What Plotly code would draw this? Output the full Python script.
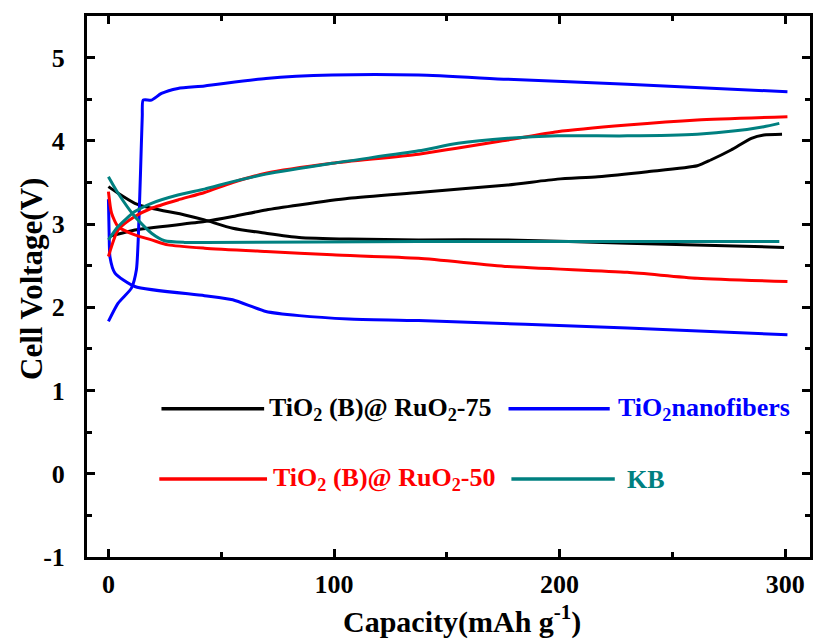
import plotly.graph_objects as go

# ---- data (capacity mAh/g, voltage V) ----
blk_dis_x = [0, 4.3, 11.7, 19.1, 33.8, 42.6, 55.1, 69.8, 84.5, 106.6, 137.5, 177, 230, 299.5]
blk_dis_y = [3.45, 3.37, 3.25, 3.19, 3.11, 3.05, 2.95, 2.89, 2.84, 2.82, 2.81, 2.81, 2.77, 2.72]
blk_chg_x = [0, 1.4, 11.7, 42.6, 55.1, 69.8, 84.5, 106.6, 137.5, 177, 199, 217, 239, 261, 267, 276, 285, 290.5, 298.6]
blk_chg_y = [2.85, 2.86, 2.93, 3.03, 3.09, 3.17, 3.23, 3.31, 3.38, 3.47, 3.54, 3.57, 3.63, 3.70, 3.77, 3.89, 4.03, 4.07, 4.08]

blu_dis_x = [0, 0.3, 0.7, 2.9, 11.7, 42.6, 55.1, 69.8, 84.5, 106.6, 137.5, 230, 301]
blu_dis_y = [3.3, 2.9, 2.6, 2.41, 2.25, 2.14, 2.09, 1.95, 1.90, 1.86, 1.84, 1.75, 1.67]
blu_chg_x = [0, 4.3, 10.2, 12.4, 13.2, 14.2, 15.0, 15.4, 19.1, 23.5, 30.8, 42.6, 69.8, 99.2, 137.5, 177, 230, 301]
blu_chg_y = [1.83, 2.05, 2.23, 2.45, 2.81, 3.6, 4.3, 4.49, 4.49, 4.57, 4.63, 4.66, 4.75, 4.79, 4.79, 4.74, 4.68, 4.59]

red_dis_x = [0, 1.4, 4.3, 11.7, 19.1, 26.4, 42.6, 69.8, 99.2, 137.5, 177, 230, 261, 301]
red_dis_y = [3.39, 3.13, 2.97, 2.87, 2.81, 2.75, 2.71, 2.67, 2.63, 2.59, 2.49, 2.42, 2.35, 2.31]
red_chg_x = [0, 4.3, 11.7, 19.1, 30.8, 42.6, 55.1, 69.8, 99.2, 137.5, 177, 199, 230, 261, 301]
red_chg_y = [2.61, 2.93, 3.09, 3.19, 3.29, 3.38, 3.50, 3.61, 3.73, 3.84, 4.01, 4.11, 4.19, 4.25, 4.29]

kb_dis_x = [0, 4.3, 11.7, 19.1, 24.9, 33.8, 42.6, 137.5, 230, 297.4]
kb_dis_y = [3.57, 3.37, 3.09, 2.89, 2.80, 2.78, 2.78, 2.79, 2.79, 2.79]
kb_chg_x = [0, 4.3, 11.7, 19.1, 30.8, 42.6, 55.1, 69.8, 99.2, 137.5, 155, 177, 199, 230, 261, 278, 290.5, 297.4]
kb_chg_y = [2.81, 2.97, 3.15, 3.25, 3.35, 3.42, 3.51, 3.60, 3.73, 3.88, 3.97, 4.03, 4.06, 4.06, 4.08, 4.12, 4.17, 4.21]

x_ticks = [0, 100, 200, 300]
y_ticks = [-1, 0, 1, 2, 3, 4, 5]
y_tick_text = ["-1", "0", "1", "2", "3", "4", "5"]

series = [
    ("TiO<sub>2</sub> (B)@ RuO<sub>2</sub>-75", "#000000", [(blk_dis_x, blk_dis_y), (blk_chg_x, blk_chg_y)]),
    ("TiO<sub>2</sub>nanofibers", "#0000FF", [(blu_dis_x, blu_dis_y), (blu_chg_x, blu_chg_y)]),
    ("TiO<sub>2</sub> (B)@ RuO<sub>2</sub>-50", "#FF0000", [(red_dis_x, red_dis_y), (red_chg_x, red_chg_y)]),
    ("KB", "#008080", [(kb_dis_x, kb_dis_y), (kb_chg_x, kb_chg_y)]),
]

FONT = "Liberation Serif"

fig = go.Figure()
for name, color, parts in series:
    for xs, ys in parts:
        fig.add_trace(go.Scatter(x=xs, y=ys, mode="lines", name=name, showlegend=False,
                                 line=dict(color=color, width=3, shape="spline", smoothing=0.6)))

# custom legend (line samples + labels)
legend_pos = [
    (0.103, 0.245, 0.274, 0.249),
    (0.583, 0.723, 0.274, 0.731),
    (0.100, 0.249, 0.144, 0.254),
    (0.587, 0.730, 0.144, 0.744),
]
for (name, color, _), (x0, x1, yy, tx) in zip(series, legend_pos):
    fig.add_shape(type="line", xref="paper", yref="paper", x0=x0, x1=x1, y0=yy, y1=yy,
                  line=dict(color=color, width=3.5))
    fig.add_annotation(xref="paper", yref="paper", x=tx, y=yy, text="<b>%s</b>" % name,
                       showarrow=False, xanchor="left", yanchor="middle",
                       font=dict(family=FONT, size=26, color=color))

# axis titles
fig.add_annotation(xref="paper", yref="paper", x=-0.076, y=0.514, textangle=-90,
                   text="<b>Cell Voltage(V)</b>", showarrow=False,
                   xanchor="center", yanchor="middle",
                   font=dict(family=FONT, size=31, color="black"))
fig.add_annotation(xref="paper", yref="paper", x=0.519, y=-0.115,
                   text="<b>Capacity(mAh g<sup>-1</sup>)</b>", showarrow=False,
                   xanchor="center", yanchor="middle",
                   font=dict(family=FONT, size=30, color="black"))

axis_common = dict(showline=True, linecolor="black", linewidth=3, mirror="allticks",
                   ticks="inside", ticklen=8, tickwidth=3, tickcolor="black",
                   showgrid=False, zeroline=False,
                   tickfont=dict(family=FONT, size=26, color="black", weight="bold"))

fig.update_xaxes(range=[-9.5, 311], tickvals=x_ticks,
                 minor=dict(ticks="inside", dtick=50, tick0=0, ticklen=5, tickwidth=3, tickcolor="black"),
                 ticklabelstandoff=2,
                 **axis_common)
fig.update_yaxes(range=[-1, 5.5], tickvals=y_ticks, ticktext=y_tick_text,
                 minor=dict(ticks="inside", dtick=0.5, tick0=0, ticklen=5, tickwidth=3, tickcolor="black"),
                 ticklabelstandoff=14,
                 **axis_common)

fig.update_layout(width=816, height=641, margin=dict(l=87, r=3, t=16, b=84),
                  plot_bgcolor="white", paper_bgcolor="white", showlegend=False)

fig.write_html("out.html")
